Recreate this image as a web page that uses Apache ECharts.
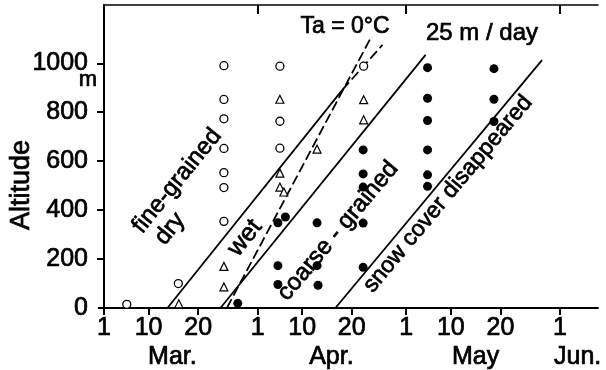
<!DOCTYPE html>
<html>
<head>
<meta charset="utf-8">
<script src="https://cdn.jsdelivr.net/npm/echarts@6/dist/echarts.min.js"></script>
<style>
  html, body { margin: 0; padding: 0; background: #fff; }
  #chart { width: 606px; height: 370px; }
</style>
</head>
<body>
<div id="chart"></div>
<script>
// x = days after 1 March, y = altitude in m
const tickDays = [0, 9, 19, 31, 40, 50, 61, 70, 80, 92];
const tickLabels = ['1', '10', '20', '1', '10', '20', '1', '10', '20', '1'];
const monthDays = [13.8, 45.9, 75, 95.6];
const monthNames = ['Mar.', 'Apr.', 'May', 'Jun.'];
const monthStarts = [31, 61, 92];
const altTicks = [0, 200, 400, 600, 800, 1000];
const altTicksRight = [200, 400, 600, 800, 1000];

// open circles: fine-grained, dry
const fineDry = [
  [4.6, 15], [15.0, 100],
  [24.2, 990], [24.2, 852], [24.2, 773], [24.2, 652], [24.2, 553], [24.2, 492], [24.2, 354],
  [35.5, 988], [35.5, 763], [35.5, 653],
  [52.4, 988]
];
// open triangles: wet
const wet = [
  [15.1, 17],
  [24.2, 170], [24.2, 86],
  [35.5, 853], [35.5, 551], [35.5, 494], [36.3, 474],
  [43.0, 649],
  [52.4, 851], [52.4, 769]
];
// filled dots: coarse-grained / snow cover disappeared
const coarse = [
  [27.0, 19],
  [35.1, 348], [36.6, 372], [35.1, 173], [35.1, 96],
  [43.0, 348], [43.0, 173], [43.2, 93],
  [52.3, 646], [52.3, 548], [52.3, 494], [52.3, 347], [52.3, 166],
  [65.3, 982], [65.3, 857], [65.3, 766], [65.3, 646], [65.3, 544], [65.3, 497],
  [78.7, 978], [78.7, 853], [78.7, 762]
];

// 25 m/day boundary lines and the Ta = 0°C line
const lineDry = [[12.8, 0], [48.1, 891]];
const lineDryExt = [[48.1, 891], [56.2, 1075]];
const lineWet = [[23.5, 0], [64.9, 1034]];
const lineCoarse = [[46.7, 0], [88.4, 1013]];
const lineTa = [[24.8, 0], [53.8, 1102]];

const FONT = '"Liberation Sans", Arial, sans-serif';
const INK = '#000';

function lookup(keys, names) {
  return function (v) {
    const i = keys.findIndex(k => Math.abs(k - v) < 1e-6);
    return i < 0 ? '' : names[i];
  };
}

const chart = echarts.init(document.getElementById('chart'), null, { renderer: 'canvas' });

const xBase = { type: 'value', min: 0, max: 99.7, splitLine: { show: false } };
const yBase = { type: 'value', min: 0, max: 1238, splitLine: { show: false } };
const labelFont = {
  color: INK, fontSize: 25, fontFamily: FONT,
  textBorderColor: INK, textBorderWidth: 0.7
};

function lineSeries(data, dashed) {
  return {
    type: 'line', data: data, showSymbol: false, silent: true, z: 1,
    lineStyle: { color: INK, width: 1.8, type: dashed ? [10, 4] : 'solid' }
  };
}

function text(str, x, y, deg, size) {
  return {
    type: 'text', x: x, y: y, rotation: deg * Math.PI / 180, z: 10,
    style: {
      text: str, fill: INK, stroke: INK, lineWidth: 0.7,
      fontSize: size, fontFamily: FONT,
      align: 'center', verticalAlign: 'middle'
    }
  };
}

chart.setOption({
  animation: false,
  backgroundColor: '#fff',
  grid: { left: 104, right: 8, top: 5, bottom: 62, containLabel: false, outerBoundsMode: 'none' },
  xAxis: [
    Object.assign({}, xBase, {
      position: 'bottom',
      axisLine: { lineStyle: { color: INK, width: 2 } },
      axisTick: { customValues: tickDays, length: 7, lineStyle: { color: INK, width: 2 } },
      axisLabel: Object.assign({
        customValues: tickDays, formatter: lookup(tickDays, tickLabels), margin: 8
      }, labelFont)
    }),
    Object.assign({}, xBase, {
      position: 'bottom', offset: 29,
      axisLine: { show: false }, axisTick: { show: false },
      axisLabel: Object.assign({
        customValues: monthDays, formatter: lookup(monthDays, monthNames), margin: 8
      }, labelFont)
    }),
    Object.assign({}, xBase, {
      position: 'top',
      axisLine: { lineStyle: { color: INK, width: 1.6 } },
      axisTick: { inside: true, customValues: monthStarts, length: 9, lineStyle: { color: INK, width: 2 } },
      axisLabel: { show: false }
    })
  ],
  yAxis: [
    Object.assign({}, yBase, {
      position: 'left',
      axisLine: { lineStyle: { color: INK, width: 2 } },
      axisTick: { customValues: altTicks, length: 6, lineStyle: { color: INK, width: 2 } },
      axisLabel: Object.assign({
        customValues: altTicks, formatter: v => String(v), margin: 16
      }, labelFont)
    }),
    Object.assign({}, yBase, {
      position: 'right',
      axisLine: { lineStyle: { color: INK, width: 1.6 } },
      axisTick: { inside: true, customValues: altTicksRight, length: 7, lineStyle: { color: INK, width: 2 } },
      axisLabel: { show: false }
    })
  ],
  series: [
    lineSeries(lineDry, false),
    lineSeries(lineDryExt, true),
    lineSeries(lineWet, false),
    lineSeries(lineCoarse, false),
    lineSeries(lineTa, true),
    {
      name: 'fine-grained dry', type: 'scatter', data: fineDry, symbol: 'circle', symbolSize: 8, z: 3,
      itemStyle: { color: '#fff', borderColor: INK, borderWidth: 1.3, opacity: 1 }
    },
    {
      name: 'wet', type: 'scatter', data: wet, symbol: 'triangle', symbolSize: 8, z: 3,
      itemStyle: { color: '#fff', borderColor: INK, borderWidth: 1.2, opacity: 1 }
    },
    {
      name: 'coarse-grained', type: 'scatter', data: coarse, symbol: 'circle', symbolSize: 9, z: 3,
      itemStyle: { color: INK, opacity: 1 }
    }
  ],
  graphic: [
    text('Altitude', 22, 185, 90, 27),
    text('m', 88, 80, 0, 22),
    text('fine-grained', 177, 181, 51, 24),
    text('dry', 170, 229, 51, 24),
    text('wet', 245, 238, 51, 25),
    text('coarse - grained', 338, 231, 50, 24),
    text('snow cover disappeared', 448, 194, 50, 23),
    text('Ta = 0°C', 345, 27, 0, 23),
    text('25 m / day', 482, 33, 0, 24)
  ]
});
</script>
</body>
</html>
